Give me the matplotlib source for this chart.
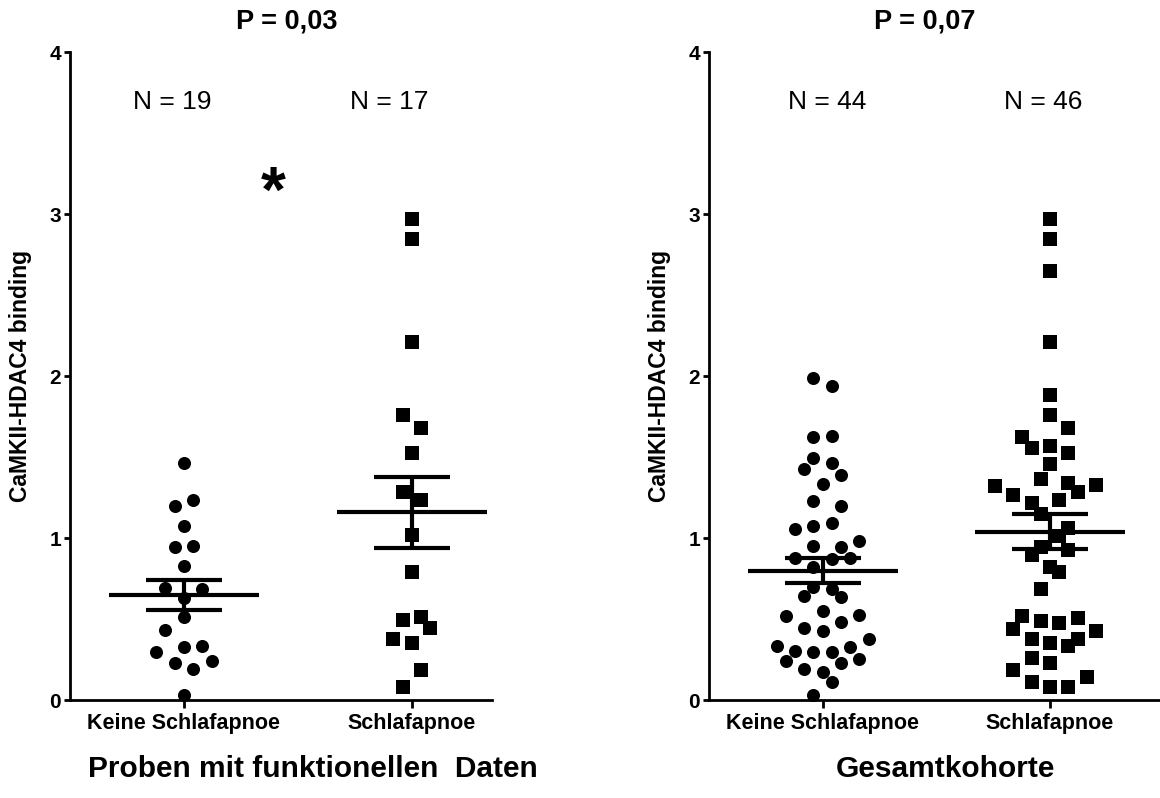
import numpy as np
import matplotlib
matplotlib.use('Agg')
import matplotlib.pyplot as plt

plt.rcParams['font.family'] = ['Liberation Sans', 'DejaVu Sans']

groups = ['Keine Schlafapnoe', 'Schlafapnoe']

# Proben mit funktionellen Daten
func_none = [1.461, 1.198, 1.235, 1.074, 0.946, 0.951, 0.827, 0.689, 0.685, 0.632,
             0.514, 0.432, 0.298, 0.329, 0.333, 0.226, 0.189, 0.241, 0.031]
func_none_col = [0, -1, 1, 0, -1, 1, 0, -2, 2, 0, 0, -2, -3, 0, 2, -1, 1, 3, 0]
func_osa = [2.967, 2.846, 2.212, 1.759, 1.677, 1.523, 1.282, 1.235, 1.019, 0.788,
            0.494, 0.510, 0.442, 0.374, 0.350, 0.185, 0.078]
func_osa_col = [0, 0, 0, -1, 1, 0, -1, 1, 0, 0, -1, 1, 2, -2, 0, 1, -1]
func_mean = [0.648, 1.160]
func_sem = [0.094, 0.219]

# Gesamtkohorte
all_none = [1.99, 1.94, 1.625, 1.630, 1.492, 1.461, 1.426, 1.389, 1.333, 1.230,
            1.198, 1.054, 1.074, 1.091, 0.984, 0.951, 0.942, 0.874, 0.868, 0.874,
            0.823, 0.695, 0.683, 0.642, 0.634, 0.549, 0.519, 0.525, 0.446, 0.483,
            0.428, 0.333, 0.302, 0.298, 0.298, 0.329, 0.374, 0.243, 0.251, 0.226,
            0.189, 0.175, 0.113, 0.031]
all_none_col = [-1, 1, -1, 1, -1, 1, -2, 2, 0, -1,
                2, -3, -1, 1, 4, -1, 2, -3, 1, 3,
                -1, -1, 1, -2, 2, 0, -4, 4, -2, 2,
                0, -5, -3, -1, 1, 3, 5, -4, 4, 2,
                -2, 0, 1, -1]
all_osa = [2.967, 2.846, 2.648, 2.212, 1.883, 1.759, 1.677, 1.621, 1.553, 1.570,
           1.523, 1.457, 1.321, 1.364, 1.337, 1.327, 1.265, 1.282, 1.218, 1.235,
           1.146, 1.060, 1.012, 0.946, 0.926, 0.895, 0.819, 0.788, 0.683, 0.519,
           0.490, 0.477, 0.504, 0.438, 0.426, 0.377, 0.350, 0.335, 0.377, 0.261,
           0.226, 0.185, 0.140, 0.113, 0.078, 0.078]
all_osa_col = [0, 0, 0, 0, 0, 0, 2, -3, -2, 0,
               2, 0, -6, -1, 2, 5, -4, 3, -2, 1,
               -1, 2, 1, -1, 2, -2, 0, 1, -1, -3,
               -1, 1, 3, -4, 5, -2, 0, 2, 3, -2,
               0, -4, 4, -2, 0, 2]
all_mean = [0.798, 1.038]
all_sem = [0.078, 0.108]

p_texts = ['P = 0,03', 'P = 0,07']
n_texts = [['N = 19', 'N = 17'], ['N = 44', 'N = 46']]
xlabels = ['Proben mit funktionellen  Daten', 'Gesamtkohorte']

STEP = 0.0405  # half marker slot in category units


def panel(ax, vals, cols, means, sems, ptext, ntexts, n_dx, xlabel, xmax, xlab_x):
    for gi, (v, c, mk, ms) in enumerate(zip(vals, cols, ['o', 's'], [9.4, 9.6])):
        x = gi + np.array(c) * STEP
        ax.plot(x, v, mk, color='black', ms=ms, mew=0, clip_on=False, zorder=3)
        ax.hlines(means[gi], gi - 0.33, gi + 0.33, color='black', lw=3, zorder=4)
        ax.hlines([means[gi] - sems[gi], means[gi] + sems[gi]], gi - 0.167, gi + 0.167,
                  color='black', lw=3, zorder=4)
        ax.vlines(gi, means[gi] - sems[gi], means[gi] + sems[gi], color='black',
                  lw=3, zorder=4)
        ax.text(gi + n_dx[gi], 3.69, ntexts[gi], ha='center', va='center', fontsize=19)

    ax.set_xlim(-0.5, xmax)
    ax.set_ylim(0, 4)
    ax.set_xticks([0, 1])
    ax.set_xticklabels(groups, fontsize=15.5, fontweight='bold')
    ax.set_yticks([0, 1, 2, 3, 4])
    ax.set_yticklabels(['0', '1', '2', '3', '4'], fontsize=15, fontweight='bold')
    ax.tick_params(axis='x', length=6, width=2, pad=3)
    ax.tick_params(axis='y', length=4.5, width=2, pad=2)
    for s in ['top', 'right']:
        ax.spines[s].set_visible(False)
    for s in ['left', 'bottom']:
        ax.spines[s].set_linewidth(2)
    ax.set_ylabel('CaMKII-HDAC4 binding', fontsize=16.5, fontweight='bold')
    ax.text(0.45, 4.19, ptext, ha='center', va='center', fontsize=19.5,
            fontweight='bold', clip_on=False)
    ax.text(xlab_x, -0.106, xlabel, transform=ax.transAxes, ha='center',
            va='center', fontsize=21.5, fontweight='bold')


fig = plt.figure(figsize=(11.6, 7.98), dpi=100)
ax1 = fig.add_axes([70 / 1160, 98 / 798, 422 / 1160, 648 / 798])
ax2 = fig.add_axes([709 / 1160, 98 / 798, 450 / 1160, 648 / 798])

panel(ax1, [func_none, func_osa], [func_none_col, func_osa_col], func_mean, func_sem,
      p_texts[0], n_texts[0], [-0.05, -0.1], xlabels[0], 1.352, 0.575)
panel(ax2, [all_none, all_osa], [all_none_col, all_osa_col], all_mean, all_sem,
      p_texts[1], n_texts[1], [0.02, -0.03], xlabels[1], 1.48, 0.525)
ax1.yaxis.set_label_coords(-0.09, 0.5)
ax2.yaxis.set_label_coords(-0.085, 0.5)

# significance mark
ax1.text(0.39, 3.12, '*', ha='center', va='center', fontsize=46, fontweight='bold')

fig.savefig('out.png', dpi=100)
